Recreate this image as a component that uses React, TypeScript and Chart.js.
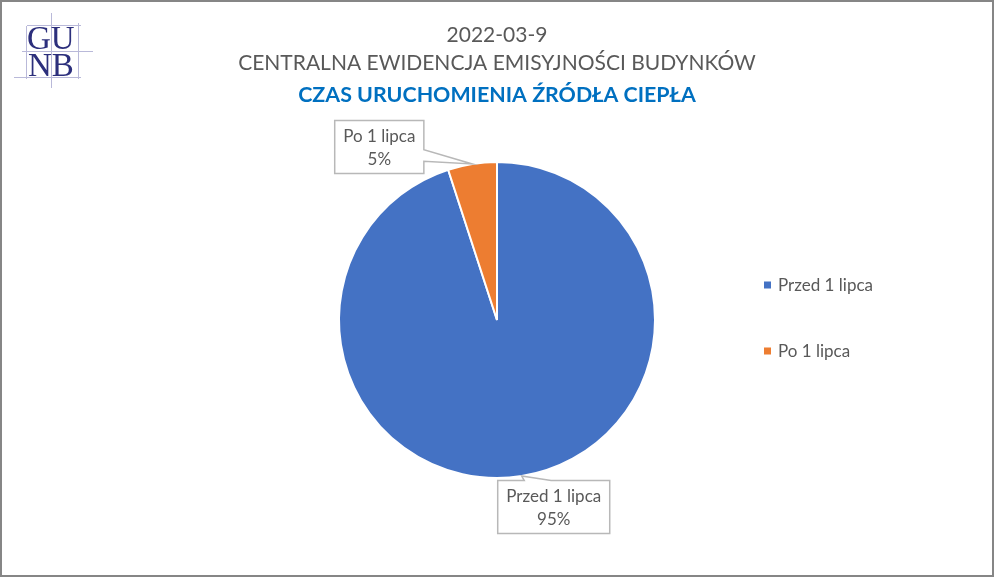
import React, { useEffect, useRef } from "react";
import { Chart, registerables } from "chart.js";

Chart.register(...registerables);

const categories = ["Przed 1 lipca", "Po 1 lipca"];
const shares = [95, 5];
const sliceColors = ["#4472C4", "#ED7D31"];
const titleLines = ["2022-03-9", "CENTRALNA EWIDENCJA EMISYJNOŚCI BUDYNKÓW"];
const subtitleText = "CZAS URUCHOMIENIA ŹRÓDŁA CIEPŁA";
const logoRows = ["GU", "NB"];

// style: label box centre offset from the slice's outer-mid point
const labelOffsets = [
  { dx: 32, dy: 31 },
  { dx: -93, dy: -17 },
];

const W = 994;
const H = 577;
const TEXT_GRAY = "#595959";
const FONT = "Lato, 'Open Sans', sans-serif";

const decorPlugin = {
  id: "decor",
  beforeDraw(chart: any) {
    const ctx = chart.ctx as CanvasRenderingContext2D;
    ctx.save();
    ctx.fillStyle = "#ffffff";
    ctx.fillRect(0, 0, W, H);
    ctx.restore();
  },
  afterDraw(chart: any) {
    const ctx = chart.ctx as CanvasRenderingContext2D;
    ctx.save();

    // outer frame
    ctx.strokeStyle = "#868686";
    ctx.lineWidth = 2;
    ctx.strokeRect(1, 1, W - 2, H - 2);

    // logo
    ctx.strokeStyle = "#b9b9d9";
    ctx.lineWidth = 1;
    const lines: [number, number, number, number][] = [
      [51.5, 13, 51.5, 88],
      [22, 51.5, 93, 51.5],
      [78.5, 23, 78.5, 79],
      [27, 25.5, 81, 25.5],
      [26.5, 26, 26.5, 79],
      [14, 77.5, 81, 77.5],
    ];
    lines.forEach(([x1, y1, x2, y2]) => {
      ctx.beginPath();
      ctx.moveTo(x1, y1);
      ctx.lineTo(x2, y2);
      ctx.stroke();
    });
    ctx.fillStyle = "#2c2f7c";
    ctx.font = "33px 'Liberation Serif', serif";
    ctx.textAlign = "left";
    ctx.textBaseline = "alphabetic";
    ctx.fillText(logoRows[0], 27, 49);
    ctx.fillText(logoRows[1], 28, 76);

    // titles
    ctx.textAlign = "center";
    ctx.fillStyle = TEXT_GRAY;
    ctx.font = `21px ${FONT}`;
    ctx.fillText(titleLines[0], W / 2, 42);
    ctx.fillText(titleLines[1], W / 2, 70);
    ctx.fillStyle = "#0070C0";
    ctx.font = `bold 21.4px ${FONT}`;
    ctx.fillText(subtitleText, W / 2, 102);

    // data labels (callouts)
    const meta = chart.getDatasetMeta(0);
    const total = shares.reduce((a, b) => a + b, 0);
    ctx.font = `17px ${FONT}`;
    meta.data.forEach((arc: any, i: number) => {
      const p = arc.getProps(["x", "y", "startAngle", "endAngle", "outerRadius"], true);
      const mid = (p.startAngle + p.endAngle) / 2;
      const tx = p.x + Math.cos(mid) * p.outerRadius;
      const ty = p.y + Math.sin(mid) * p.outerRadius;
      const cx = tx + labelOffsets[i].dx;
      const cy = ty + labelOffsets[i].dy;
      const l1 = categories[i];
      const l2 = Math.round((shares[i] / total) * 100) + "%";
      const tw = Math.max(ctx.measureText(l1).width, ctx.measureText(l2).width);
      const bw = tw + 17;
      const bh = 53;
      const L = cx - bw / 2, R = cx + bw / 2, T = cy - bh / 2, B = cy + bh / 2;
      ctx.beginPath();
      ctx.moveTo(L, T);
      if (ty < T) {
        const cpx = Math.min(Math.max(tx, L), R);
        const c = (cpx + cx) / 2;
        const hw = bw * 0.12;
        ctx.lineTo(c - hw, T);
        ctx.lineTo(tx, ty);
        ctx.lineTo(c + hw, T);
      }
      ctx.lineTo(R, T);
      if (tx > R && ty >= T && ty <= B + 40) {
        const cpy = Math.min(Math.max(ty, T), B);
        const c = (cpy + cy) / 2;
        const hw = bh * 0.11;
        ctx.lineTo(R, c - hw);
        ctx.lineTo(tx, ty);
        ctx.lineTo(R, c + hw);
      }
      ctx.lineTo(R, B);
      ctx.lineTo(L, B);
      ctx.closePath();
      ctx.fillStyle = "#ffffff";
      ctx.fill();
      ctx.strokeStyle = "#b8b8b8";
      ctx.lineWidth = 1.5;
      ctx.stroke();
      ctx.fillStyle = TEXT_GRAY;
      ctx.textAlign = "center";
      ctx.fillText(l1, cx, cy - 5);
      ctx.fillText(l2, cx, cy + 18);
    });

    // legend
    const legendX = 764;
    const legendMid = 318;
    const gap = 66;
    ctx.textAlign = "left";
    ctx.font = `17px ${FONT}`;
    categories.forEach((name, i) => {
      const y = legendMid + (i - (categories.length - 1) / 2) * gap;
      ctx.fillStyle = sliceColors[i];
      ctx.fillRect(legendX, y - 3.5, 7, 7);
      ctx.fillStyle = TEXT_GRAY;
      ctx.fillText(name, legendX + 14, y + 6);
    });

    ctx.restore();
  },
};

export default function App() {
  const ref = useRef<HTMLCanvasElement | null>(null);
  useEffect(() => {
    if (!ref.current) return;
    const chart = new Chart(ref.current, {
      type: "pie",
      data: {
        labels: categories,
        datasets: [
          {
            data: shares,
            backgroundColor: sliceColors,
            borderColor: "#ffffff",
            borderWidth: 2,
          },
        ],
      },
      options: {
        responsive: false,
        animation: false,
        devicePixelRatio: 1,
        layout: { padding: { top: 161, bottom: 98, left: 338, right: 338 } },
        plugins: {
          legend: { display: false },
          title: { display: false },
          tooltip: { enabled: false },
        },
      },
      plugins: [decorPlugin],
    });
    return () => chart.destroy();
  }, []);
  return (
    <div style={{ position: "fixed", left: 0, top: 0, width: W, height: H, background: "#fff" }}>
      <canvas ref={ref} width={W} height={H} style={{ display: "block" }} />
    </div>
  );
}
